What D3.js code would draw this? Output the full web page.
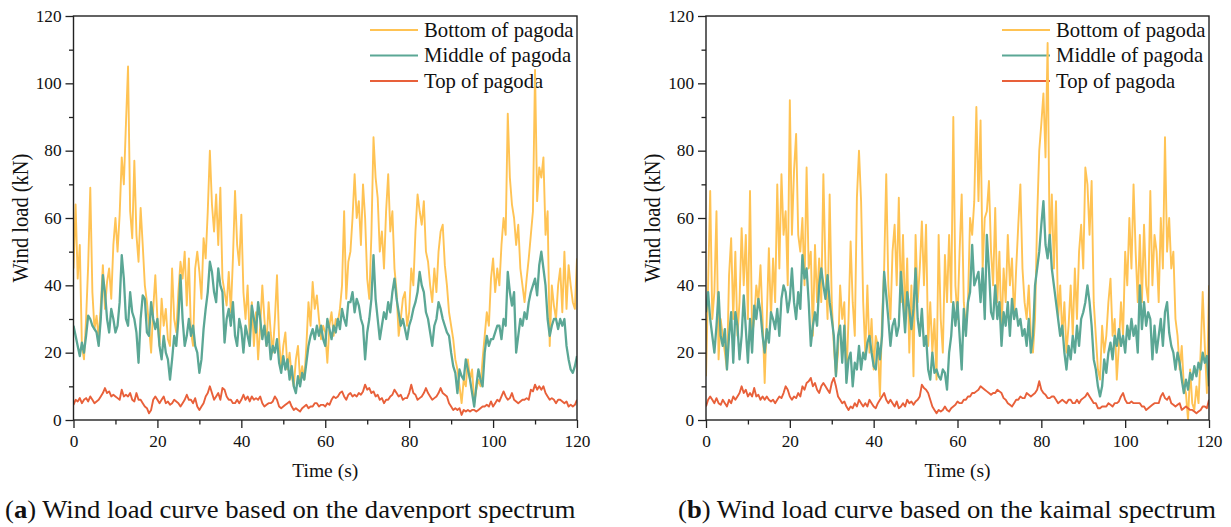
<!DOCTYPE html>
<html>
<head>
<meta charset="utf-8">
<script src="https://cdn.jsdelivr.net/npm/d3@7"></script>
<style>
  body { margin: 0; background: #fff; }
  svg { display: block; }
</style>
</head>
<body>
<svg id="chart" width="1231" height="527"></svg>
<script>
// Sampling interval of the load records (s)
const STEP = 0.5;
const FONT = '"Liberation Serif", "Times New Roman", serif';

const seriesNames = ["Bottom of pagoda", "Middle of pagoda", "Top of pagoda"];
const seriesColors = ["#ffc354", "#5ba795", "#e8603a"];
const xTicks = [0, 20, 40, 60, 80, 100, 120];
const yTicks = [0, 20, 40, 60, 80, 100, 120];

// (a) Davenport spectrum, wind load in kN
const davenportBottom = [
  45, 64, 42, 52, 22, 18, 30, 46, 69, 38,
  27, 31, 24, 34, 46, 33, 41, 45, 36, 52,
  60, 50, 61, 78, 70, 88, 105, 62, 54, 77,
  55, 47, 63, 52, 40, 35, 28, 20, 33, 43,
  30, 22, 36, 28, 33, 24, 22, 45, 30, 26,
  38, 47, 42, 50, 34, 48, 26, 22, 45, 50,
  44, 36, 54, 48, 62, 80, 64, 56, 67, 52,
  69, 42, 38, 34, 44, 32, 48, 68, 52, 46,
  61, 38, 30, 40, 24, 35, 22, 32, 18, 28,
  40, 30, 22, 35, 26, 20, 30, 43, 24, 15,
  22, 26, 15, 20, 13, 10, 18, 22, 12, 16,
  12, 22, 35, 28, 41, 33, 37, 30, 24, 28,
  26, 17, 28, 32, 25, 30, 29, 33, 40, 62,
  36, 47, 50, 60, 73, 60, 65, 52, 70, 60,
  42, 36, 55, 84, 72, 66, 50, 56, 45, 62,
  73, 56, 62, 45, 38, 25, 30, 36, 38, 28,
  32, 45, 40, 56, 67, 62, 58, 65, 50, 47,
  40, 35, 45, 38, 50, 56, 58, 46, 40, 32,
  28, 24, 18, 15, 10, 5, 12, 10, 18, 12,
  15, 5, 9, 12, 10, 18, 25, 32, 28, 42,
  48, 38, 45, 40, 52, 60, 55, 91, 72, 64,
  60, 52, 58, 45, 40, 35, 42, 48, 55, 62,
  104, 65, 75, 72, 78, 55, 62, 22, 40, 34,
  30, 40, 45, 32, 50, 33, 46, 40, 35, 33,
  48
];
const davenportMiddle = [
  28, 25, 22, 19, 23, 20, 25, 31, 30, 28,
  27, 26, 22, 30, 43, 38, 30, 26, 33, 30,
  26, 28, 35, 49, 42, 30, 28, 38, 32, 30,
  26, 17, 30, 37, 36, 26, 25, 35, 30, 27,
  30, 22, 18, 25, 20, 18, 12, 18, 25, 22,
  30, 43, 30, 22, 25, 30, 25, 28, 22, 20,
  14, 18, 27, 33, 38, 47, 44, 38, 35, 45,
  40, 38, 23, 30, 33, 28, 35, 25, 22, 30,
  27, 20, 28, 25, 22, 34, 30, 26, 35, 30,
  24, 28, 22, 26, 18, 22, 20, 24, 17, 14,
  19, 15, 18, 12, 16, 10, 8, 13, 10, 14,
  12, 17, 22, 25, 27, 24, 28, 25, 28, 24,
  22, 30, 27, 24, 28, 26, 30, 27, 33, 30,
  28, 35, 35, 38, 32, 36, 34, 30, 28, 18,
  26, 30, 36, 49, 36, 30, 24, 28, 32, 30,
  35, 32, 38, 42, 36, 32, 28, 30, 27, 24,
  28, 30, 33, 35, 38, 44, 40, 38, 32, 30,
  26, 22, 28, 30, 35, 33, 30, 28, 26, 25,
  20, 16, 14, 8, 15, 13, 12, 18, 15, 12,
  8, 4, 10, 15, 12, 10, 20, 25, 22, 24,
  24, 26, 28, 28, 24, 30, 28, 44, 38, 34,
  38, 20, 25, 30, 28, 32, 30, 35, 38, 40,
  42, 37, 46, 50, 45, 40, 30, 25, 28, 30,
  30, 27, 30, 28, 30, 22, 18, 15, 14, 16,
  19
];
const davenportTop = [
  4.5, 6, 5.5, 6.5, 5, 6, 6.5, 5.5, 7, 6,
  5, 5.5, 6, 7, 8, 9.5, 8, 8.5, 7, 7.5,
  7, 6.5, 6, 9, 7, 7.5, 7, 8, 6, 5.5,
  8, 6, 6, 5, 4, 3.5, 2, 3, 6, 7,
  6, 5, 6, 7, 5, 5.5, 4.5, 5, 6, 5.5,
  5, 4, 5, 6, 7.5, 6, 6, 5, 6.5, 4,
  3, 4, 5, 7, 8, 10, 8, 6, 7, 8,
  6, 9.5, 9, 7, 6, 6, 5, 5, 6, 5,
  6, 7.5, 6, 7, 5.5, 7, 6, 6.5, 6, 7,
  5, 4, 4.5, 5, 5, 5.5, 7, 6, 4, 3.5,
  4, 4.5, 5, 5.5, 4, 3, 3.5, 3, 2.5, 3.5,
  4, 4.5, 3.5, 4, 4, 5, 5, 4, 4.5, 4.5,
  4, 5, 4.5, 6, 7, 6.5, 7, 8, 8.5, 7,
  6, 7.5, 8, 7, 7.5, 7, 8, 7.5, 8.5, 10.5,
  9, 9.5, 8, 8.5, 7, 7.5, 6, 6.5, 5, 6,
  6, 7, 7.5, 9, 8, 7, 7.5, 6, 6.5, 6.5,
  8, 10.5, 8, 7.5, 6, 6.5, 7, 8, 9.5, 8,
  7, 6, 6.5, 7, 8, 9.5, 8, 7.5, 7, 5,
  4, 3, 3.5, 3, 3.5, 1.5, 3, 2.5, 3, 2.5,
  3, 3, 2.5, 3, 3.5, 4, 4, 4.5, 4, 5.5,
  4, 5, 6, 5.5, 7, 8.5, 7, 6, 6.5, 8,
  6, 5.5, 5, 5.5, 6, 6, 6.5, 6, 9, 8.5,
  10.5, 9, 10, 9, 10, 8, 7, 6, 6.5, 6,
  5, 6, 6, 5.5, 5, 5.5, 4, 4.5, 4, 4.5,
  6
];

// (b) Kaimal spectrum, wind load in kN
const kaimalBottom = [
  13, 40, 68, 30, 38, 62, 18, 30, 25, 20,
  15, 43, 54, 30, 50, 25, 35, 57, 40, 55,
  30, 68, 25, 30, 40, 35, 46, 30, 11, 30,
  51, 30, 48, 35, 70, 45, 73, 55, 62, 40,
  95, 55, 74, 85, 55, 50, 60, 40, 75, 45,
  50, 25, 52, 35, 48, 35, 73, 45, 30, 67,
  35, 22, 13, 20, 40, 30, 35, 12, 30, 53,
  35, 25, 66, 80, 65, 35, 20, 40, 20, 30,
  15, 25, 22, 7, 30, 45, 73, 40, 30, 50,
  58, 40, 66, 35, 55, 30, 48, 20, 40, 13,
  55, 35, 45, 59, 40, 58, 22, 35, 20, 30,
  12, 55, 30, 20, 49, 35, 55, 35, 90, 40,
  30, 50, 67, 35, 28, 35, 60, 55, 65, 93,
  65, 89, 45, 60, 62, 71, 50, 40, 63, 35,
  50, 25, 45, 35, 55, 40, 48, 30, 45, 58,
  70, 45, 35, 30, 40, 25, 20, 30, 60, 80,
  88, 97, 78, 112, 50, 67, 45, 65, 30, 40,
  25, 35, 20, 28, 40, 25, 45, 30, 50, 58,
  45, 75, 70, 55, 71, 35, 25, 15, 12, 28,
  20, 25, 35, 42, 25, 30, 12, 22, 35, 25,
  50, 40, 60, 45, 70, 50, 35, 55, 35, 58,
  40, 35, 68, 40, 55, 50, 35, 60, 45, 84,
  50, 60, 45, 50, 30, 25, 15, 22, 10, 8,
  0, 15, 5, 3, 10, 5, 20, 38, 22, 8,
  40
];
const kaimalMiddle = [
  32, 38, 30, 25, 20, 28, 38, 25, 22, 27,
  15, 25, 32, 17, 32, 28, 18, 25, 37, 27,
  17, 30, 20, 34, 30, 36, 32, 25, 20, 27,
  23, 32, 30, 27, 33, 25, 36, 40, 38, 32,
  36, 45, 35, 30, 38, 33, 49, 42, 45, 35,
  22, 28, 32, 28, 40, 45, 40, 36, 43, 35,
  30, 25, 13, 25, 28, 17, 28, 11, 18, 20,
  10, 17, 15, 22, 15, 20, 18, 23, 25, 20,
  16, 15, 23, 18, 25, 44, 37, 30, 22, 28,
  30, 25, 28, 44, 35, 26, 38, 33, 27, 33,
  45, 30, 25, 33, 22, 25, 15, 12, 20, 14,
  15, 13, 12, 15, 14, 9, 20, 25, 35, 28,
  35, 25, 15, 33, 25, 35, 38, 52, 40, 42,
  44, 35, 45, 30, 55, 45, 32, 30, 40, 30,
  35, 22, 32, 28, 35, 25, 36, 30, 33, 28,
  30, 25, 27, 22, 30, 20, 25, 40, 45, 50,
  58, 65, 52, 48, 55, 45, 40, 35, 30, 25,
  28, 20, 15, 22, 18, 25, 20, 28, 22, 30,
  32, 35, 40, 35, 28, 18, 15, 10, 7, 10,
  18, 14, 20, 23, 18, 25, 22, 27, 22, 25,
  20, 28, 24, 30, 25, 28, 20, 40, 27, 35,
  28, 32, 30, 18, 28, 20, 25, 30, 22, 32,
  35, 26, 22, 20, 15, 20, 17, 12, 8, 12,
  9, 14, 12, 16, 13, 17, 15, 20, 17, 19,
  10
];
const kaimalTop = [
  4, 6, 7, 6, 5, 6.5, 5, 4.5, 6, 5,
  4, 6, 5, 7, 6, 7, 8, 10, 8, 9,
  7, 8, 7, 9.5, 7, 7.5, 6, 7, 6, 7,
  6, 5.5, 6, 5, 6, 7, 6.5, 8, 10, 9,
  7, 6, 7, 6.5, 8, 7, 10, 9, 11, 11.5,
  12.5, 10, 11, 9, 8, 10, 11, 10, 9, 8,
  11, 12.5, 10, 7, 6, 5, 5.5, 4, 3, 4,
  3.5, 5, 4, 6, 5, 4, 5, 4, 6, 5,
  4, 3.5, 5, 6, 7, 8, 6, 5, 6, 5,
  4, 5.5, 3.5, 4, 5, 4, 6, 5, 5.5, 4.5,
  5.5, 6, 7, 10.5, 9.5, 9, 8, 6, 4, 3,
  2, 3, 2.5, 3, 4, 3, 2.5, 3.5, 4, 4.5,
  5.5, 5, 5, 6, 6, 7, 7, 8, 8, 8.5,
  9, 10, 9.5, 9, 8.5, 8, 7.5, 8, 8, 9,
  8.5, 8, 6.5, 6, 5, 4.5, 4, 5, 6, 6,
  7, 6.5, 6.5, 8, 7.5, 7, 7.5, 8, 9, 11.5,
  9, 8, 7.5, 6.5, 6.5, 7, 7, 6, 5, 5.5,
  6, 5.5, 5, 6, 6, 5, 5, 6, 5, 6,
  6.5, 7, 8, 7, 6, 5, 5, 3.5, 3.5, 4,
  4, 4, 5, 4.5, 4, 5, 5, 5.5, 7, 8,
  6, 5, 5, 5.5, 5, 5, 5, 5, 4, 4,
  3, 3.5, 4, 4.5, 5, 5, 5, 7, 8, 6.5,
  6, 7, 5, 4.5, 4, 4.5, 5, 3, 3.5, 4,
  3.5, 3, 3, 2.5, 2, 2.5, 3, 4, 4, 3.5,
  6
];

const panels = [
  { id: "a", left: 73.5, right: 577, caption: " Wind load curve based on the davenport spectrum", capX: 5,
    series: [davenportBottom, davenportMiddle, davenportTop], legendX: 370 },
  { id: "b", left: 706, right: 1209, caption: " Wind load curve based on the kaimal spectrum", capX: 678,
    series: [kaimalBottom, kaimalMiddle, kaimalTop], legendX: 1002 }
];
const TOP = 16, BOTTOM = 420;

const svg = d3.select("#chart");

function styleText(sel, size) {
  return sel.style("font-family", FONT).style("font-size", size + "px").attr("fill", "#111");
}
// text placed at (x, y) and widened horizontally by sx
function wideText(parent, x, y, size, sx) {
  return styleText(parent.append("text"), size)
    .attr("transform", `translate(${x},${y}) scale(${sx},1)`);
}

panels.forEach(p => {
  const x = d3.scaleLinear().domain([0, 120]).range([p.left, p.right]);
  const y = d3.scaleLinear().domain([0, 120]).range([BOTTOM, TOP]);
  const g = svg.append("g");

  const clipId = "clip-" + p.id;
  svg.append("defs").append("clipPath").attr("id", clipId)
    .append("rect").attr("x", p.left).attr("y", TOP)
    .attr("width", p.right - p.left).attr("height", BOTTOM - TOP);

  // minor ticks
  const minorVals = d3.range(10, 120, 20);
  g.append("g").attr("transform", `translate(${p.left},0)`)
    .call(d3.axisLeft(y).tickValues(minorVals).tickSize(4.5).tickFormat(""))
    .call(a => a.select(".domain").remove())
    .selectAll("line").attr("stroke", "#222").attr("stroke-width", 1.3);
  g.append("g").attr("transform", `translate(0,${BOTTOM})`)
    .call(d3.axisBottom(x).tickValues(minorVals).tickSize(4.5).tickFormat(""))
    .call(a => a.select(".domain").remove())
    .selectAll("line").attr("stroke", "#222").attr("stroke-width", 1.3);

  // major ticks and labels
  const yAxis = g.append("g").attr("transform", `translate(${p.left},0)`)
    .call(d3.axisLeft(y).tickValues(yTicks).tickSize(8).tickPadding(3))
    .call(a => a.select(".domain").remove());
  const xAxis = g.append("g").attr("transform", `translate(0,${BOTTOM})`)
    .call(d3.axisBottom(x).tickValues(xTicks).tickSize(8).tickPadding(8))
    .call(a => a.select(".domain").remove());
  [yAxis, xAxis].forEach(a => {
    a.attr("font-family", null).attr("font-size", null);
    styleText(a.selectAll("text"), 16).attr("transform", "scale(1.08,1)");
    a.selectAll("line").attr("stroke", "#222").attr("stroke-width", 1.3);
  });

  // legend (drawn below the curves)
  const legend = g.append("g");
  seriesNames.forEach((name, i) => {
    const ly = 30 + i * 25.5;
    legend.append("line")
      .attr("x1", p.legendX).attr("x2", p.legendX + 48)
      .attr("y1", ly).attr("y2", ly)
      .attr("stroke", seriesColors[i]).attr("stroke-width", 2);
    wideText(legend, p.legendX + 54, ly + 6.5, 20.5, 1.01).text(name);
  });

  // curves
  const line = d3.line()
    .x((d, i) => x(i * STEP))
    .y(d => y(d));
  const widths = [1.9, 2.3, 1.9];
  const curves = g.append("g").attr("clip-path", `url(#${clipId})`);
  p.series.forEach((vals, i) => {
    curves.append("path")
      .datum(vals)
      .attr("fill", "none")
      .attr("stroke", seriesColors[i])
      .attr("stroke-width", widths[i])
      .attr("stroke-linejoin", "round")
      .attr("d", line);
  });

  // frame
  g.append("rect")
    .attr("x", p.left).attr("y", TOP)
    .attr("width", p.right - p.left).attr("height", BOTTOM - TOP)
    .attr("fill", "none").attr("stroke", "#222").attr("stroke-width", 1.4);

  // axis titles
  wideText(g, (p.left + p.right) / 2, 477, 19, 1.03)
    .attr("text-anchor", "middle")
    .text("Time (s)");
  styleText(g.append("text"), 20.5)
    .attr("transform", `translate(${p.left - 46},${(TOP + BOTTOM) / 2}) rotate(-90) scale(1,1.12)`)
    .attr("text-anchor", "middle")
    .text("Wind load (kN)");

  // caption
  const cap = wideText(g, p.capX, 518, 25, 1.065);
  cap.append("tspan").text("(");
  cap.append("tspan").attr("font-weight", "bold").text(p.id);
  cap.append("tspan").text(")");
  cap.append("tspan").text(p.caption);
});
</script>
</body>
</html>
